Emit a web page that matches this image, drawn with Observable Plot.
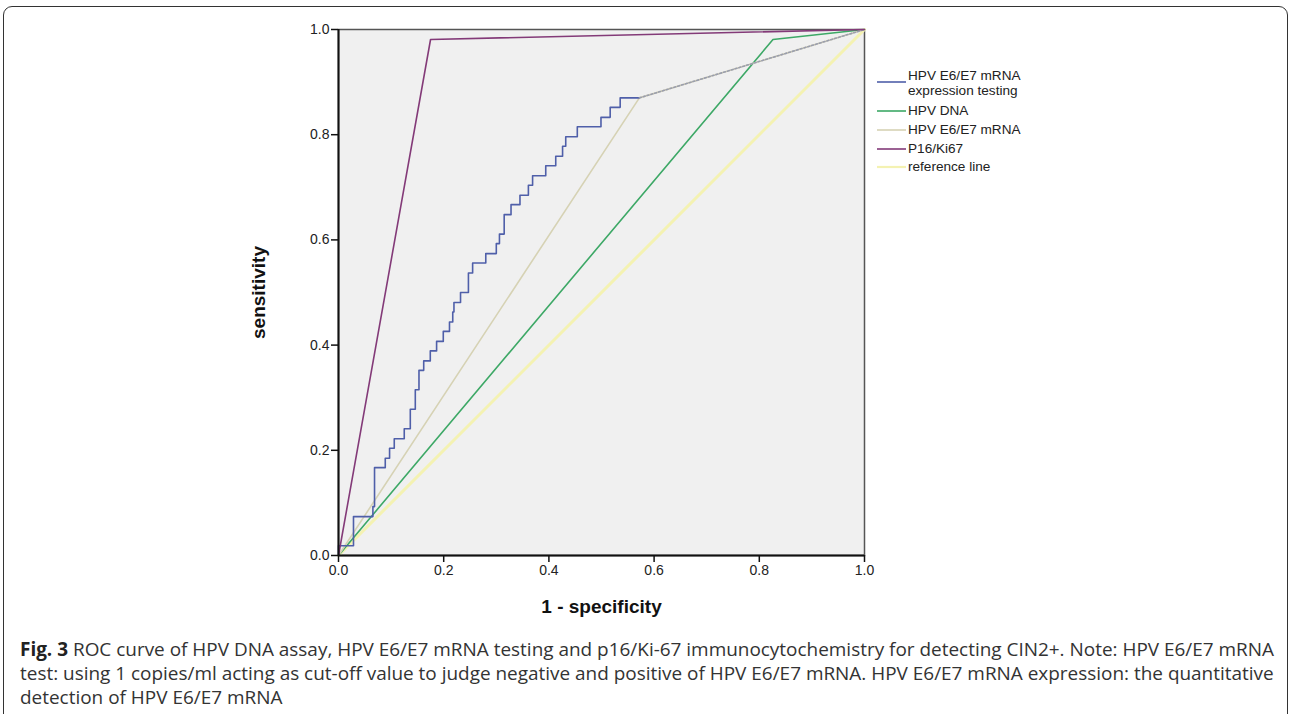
<!DOCTYPE html>
<html>
<head>
<meta charset="utf-8">
<script src="https://cdn.jsdelivr.net/npm/d3@7"></script>
<script src="https://cdn.jsdelivr.net/npm/@observablehq/plot@0.6"></script>
<style>
  html, body { margin: 0; padding: 0; background: #fff; }
  body { width: 1292px; height: 714px; position: relative; overflow: hidden; }
  #border { position: absolute; left: 3px; top: 6px; width: 1283px; height: 720px; border: 1.5px solid #333; border-radius: 9px; }
  #chart { position: absolute; left: 0; top: 0; }
  #legend { position: absolute; left: 875px; top: 68px; font-family: "Liberation Sans", Arial, sans-serif; font-size: 13.6px; color: #222; line-height: 15px; }
  .lg { position: relative; padding-left: 33px; }
  .lg svg { position: absolute; left: 0; top: 0; }
  #caption { position: absolute; left: 20px; top: 637px; font-family: "Open Sans", Lato, sans-serif; font-size: 17px; line-height: 24px; color: #333; white-space: nowrap; }
  #caption b { font-weight: bold; color: #222; }
</style>
</head>
<body>
<div id="border"></div>
<div id="chart"></div>
<div id="legend"></div>
<div id="caption"><span id="cl1"><b>Fig. 3</b> ROC curve of HPV DNA assay, HPV E6/E7 mRNA testing and p16/Ki-67 immunocytochemistry for detecting CIN2+. Note: HPV E6/E7 mRNA</span><br>test: using 1 copies/ml acting as cut-off value to judge negative and positive of HPV E6/E7 mRNA. HPV E6/E7 mRNA expression: the quantitative<br>detection of HPV E6/E7 mRNA</div>
<script>
// ---- Data ----
// HPV E6/E7 mRNA expression testing (staircase corner points: end of each horizontal run)
const exprFpr = [0, 0.0285, 0.0654, 0.0685, 0.0889, 0.0971, 0.106, 0.125, 0.1365, 0.146, 0.153, 0.162, 0.1745, 0.1865, 0.1992, 0.211, 0.2172, 0.2195, 0.232, 0.247, 0.255, 0.280, 0.300, 0.306, 0.315, 0.328, 0.345, 0.361, 0.369, 0.394, 0.413, 0.426, 0.432, 0.454, 0.499, 0.5165, 0.5355, 0.572, 1.0];
const exprTpr = [0, 0.0185, 0.074, 0.093, 0.167, 0.185, 0.204, 0.222, 0.241, 0.278, 0.315, 0.352, 0.370, 0.389, 0.407, 0.426, 0.444, 0.463, 0.481, 0.500, 0.537, 0.556, 0.574, 0.593, 0.611, 0.648, 0.667, 0.685, 0.704, 0.722, 0.741, 0.759, 0.778, 0.796, 0.815, 0.833, 0.852, 0.870, 1.0];
// HPV DNA
const dnaFpr = [0, 0.826, 1.0];
const dnaTpr = [0, 0.981, 1.0];
// HPV E6/E7 mRNA
const mrnaFpr = [0, 0.572, 1.0];
const mrnaTpr = [0, 0.870, 1.0];
// P16/Ki67
const p16Fpr = [0, 0.175, 1.0];
const p16Tpr = [0, 0.981, 1.0];
// reference line
const refFpr = [0, 1.0];
const refTpr = [0, 1.0];

const seriesNames = ["HPV E6/E7 mRNA\nexpression testing", "HPV DNA", "HPV E6/E7 mRNA", "P16/Ki67", "reference line"];
const seriesColors = ["#4f5fa9", "#3da866", "#d6d2b4", "#833a78", "#f4f2b2"];
const tickValues = [0, 0.2, 0.4, 0.6, 0.8, 1.0];
const xLabel = "1 - specificity";
const yLabel = "sensitivity";

const toPts = (xs, ys) => xs.map((x, i) => ({x, y: ys[i]}));
const expr = toPts(exprFpr, exprTpr);
const exprStairs = expr.slice(0, -1);
const exprTail = expr.slice(-2);

const chart = Plot.plot({
  width: 1292,
  height: 640,
  marginLeft: 338,
  marginRight: 428,
  marginTop: 29,
  marginBottom: 85,
  style: { fontFamily: '"Liberation Sans", Arial, sans-serif', fontSize: "14px", color: "#222", background: "transparent", overflow: "visible" },
  x: { domain: [0, 1] },
  y: { domain: [0, 1] },
  marks: [
    Plot.frame({ fill: "#f0f0f0", stroke: "#555", strokeWidth: 1.5 }),
    Plot.line(toPts(refFpr, refTpr), { x: "x", y: "y", stroke: seriesColors[4], strokeWidth: 3 }),
    Plot.line(toPts(dnaFpr, dnaTpr), { x: "x", y: "y", stroke: seriesColors[1], strokeWidth: 1.6 }),
    Plot.line(toPts(mrnaFpr, mrnaTpr), { x: "x", y: "y", stroke: seriesColors[2], strokeWidth: 1.6 }),
    Plot.line(exprStairs, { x: "x", y: "y", curve: "step-before", stroke: seriesColors[0], strokeWidth: 1.6 }),
    Plot.line(exprTail, { x: "x", y: "y", stroke: "#9a9eae", strokeWidth: 1.6, strokeDasharray: "2,2" }),
    Plot.line(toPts(p16Fpr, p16Tpr), { x: "x", y: "y", stroke: seriesColors[3], strokeWidth: 1.6 }),
    Plot.ruleX([0], { stroke: "#111", strokeWidth: 2 }),
    Plot.ruleY([0], { stroke: "#111", strokeWidth: 2 }),
    Plot.axisX({ ticks: tickValues, tickFormat: d3.format(".1f"), tickSize: 7, tickPadding: 3, label: null, stroke: "#111", strokeWidth: 1.5 }),
    Plot.axisY({ ticks: tickValues, tickFormat: d3.format(".1f"), tickSize: 7, tickPadding: 2, label: null, stroke: "#111", strokeWidth: 1.5 }),
    Plot.text([xLabel], { text: d => d, frameAnchor: "bottom", dy: 51, textAnchor: "middle", lineAnchor: "middle", fontSize: 19, fontWeight: "bold", fill: "#111" }),
    Plot.text([yLabel], { text: d => d, frameAnchor: "left", dx: -80, rotate: -90, textAnchor: "middle", lineAnchor: "middle", fontSize: 19, fontWeight: "bold", fill: "#111" })
  ]
});
document.getElementById("chart").appendChild(chart);

// ---- Legend ----
const legend = document.getElementById("legend");
const rowHeights = [35, 19, 19, 18, 18];
seriesNames.forEach((name, i) => {
  const row = document.createElement("div");
  row.className = "lg";
  row.style.height = rowHeights[i] + "px";
  const ly = i === 0 ? 14 : 8;
  row.innerHTML = `<svg width="32" height="20"><line x1="2" x2="31" y1="${ly}" y2="${ly}" stroke="${seriesColors[i]}" stroke-width="${i === 4 ? 2.2 : 1.6}"/></svg>` + name.split("\n").join("<br>");
  legend.appendChild(row);
});

// ---- Fit caption width to the reference's text block ----
const cl1 = document.getElementById("cl1");
const cap = document.getElementById("caption");
const w = cl1.getBoundingClientRect().width;
if (w > 0) cap.style.fontSize = (17 * 1255 / w).toFixed(2) + "px";
</script>
</body>
</html>
